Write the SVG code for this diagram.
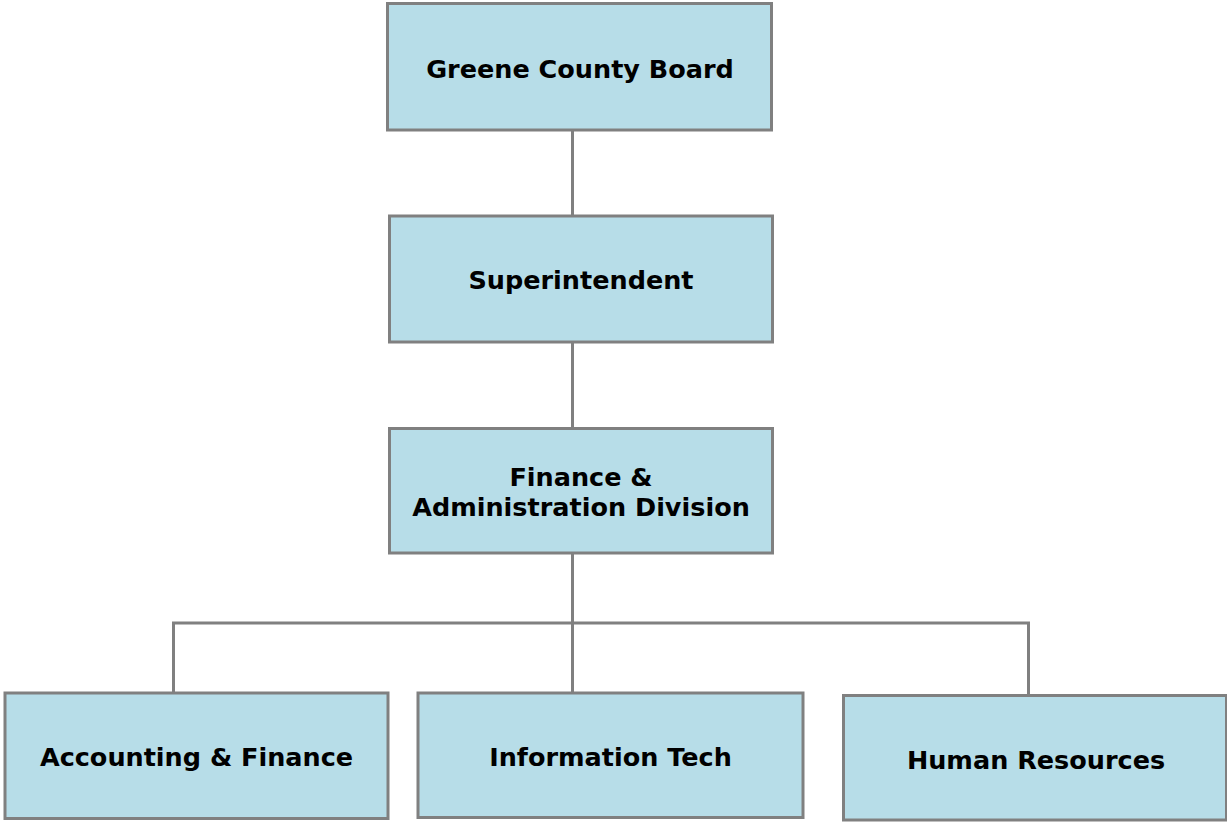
<svg xmlns="http://www.w3.org/2000/svg" width="1227" height="822" viewBox="0 0 1227 822">
  <style>
    .box { fill: #b7dde8; stroke: #808080; stroke-width: 3; }
    .lbl { font-family: "DejaVu Sans", Verdana, sans-serif; font-weight: bold; font-size: 25.5px; fill: #000; text-anchor: middle; }
    .wire { fill: none; stroke: #808080; stroke-width: 3; }
  </style>
  <rect width="1227" height="822" fill="#ffffff"/>
  <g id="connectors">
    <line class="wire" x1="572.5" y1="130" x2="572.5" y2="216"/>
    <line class="wire" x1="572.5" y1="342" x2="572.5" y2="428.5"/>
    <line class="wire" x1="572.5" y1="553" x2="572.5" y2="693"/>
    <polyline class="wire" points="173.5,693 173.5,623 1028.5,623 1028.5,695.5"/>
  </g>
  <g id="board">
    <rect class="box" x="387.5" y="3.5" width="384" height="126.5"/>
    <text class="lbl" x="580" y="78">Greene County Board</text>
  </g>
  <g id="superintendent">
    <rect class="box" x="389.5" y="216" width="383" height="126"/>
    <text class="lbl" x="581" y="289">Superintendent</text>
  </g>
  <g id="finance-admin">
    <rect class="box" x="389.5" y="428.5" width="383" height="124.5"/>
    <text class="lbl" x="581" y="486">Finance &amp;</text>
    <text class="lbl" x="581" y="516">Administration Division</text>
  </g>
  <g id="accounting">
    <rect class="box" x="5" y="693" width="383" height="125.5"/>
    <text class="lbl" x="196.5" y="766">Accounting &amp; Finance</text>
  </g>
  <g id="info-tech">
    <rect class="box" x="418" y="693" width="385" height="124.5"/>
    <text class="lbl" x="610.5" y="766">Information Tech</text>
  </g>
  <g id="human-resources">
    <rect class="box" x="843.5" y="695.5" width="383" height="124.5"/>
    <text class="lbl" x="1036" y="768.5">Human Resources</text>
  </g>
</svg>
